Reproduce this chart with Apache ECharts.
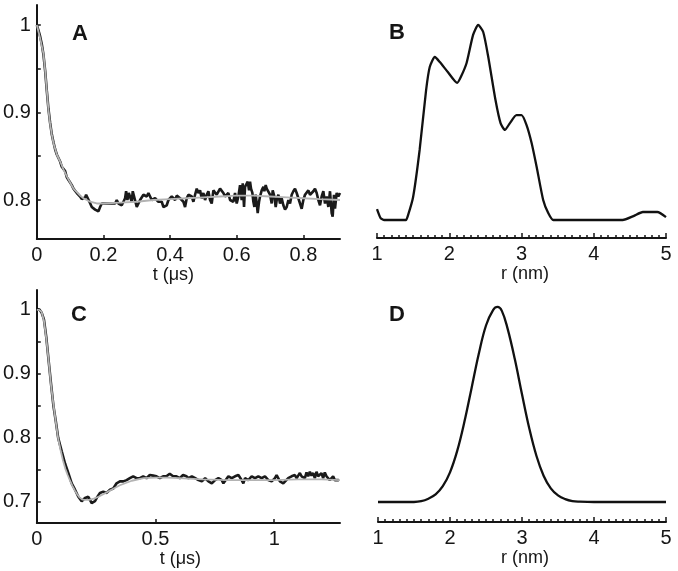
<!DOCTYPE html>
<html><head><meta charset="utf-8">
<script src="https://cdn.jsdelivr.net/npm/echarts@6/dist/echarts.min.js"></script>
<style>html,body{margin:0;padding:0;background:#fff}#c{width:678px;height:571px}</style>
</head><body><div id="c"></div>
<script>
// ---- Panel A: time trace (experimental + fit) ----
const tFitA = [0,0.01,0.02,0.025,0.03,0.035,0.04,0.045,0.05,0.06,0.07,0.08,0.09,0.1,0.11,0.12,0.13,0.14,0.15,0.16,0.18,0.2,0.25,0.3,0.35,0.4,0.45,0.5,0.55,0.6,0.65,0.7,0.75,0.8,0.85,0.91];
const vFitA = [1,0.985,0.967,0.948,0.925,0.903,0.887,0.875,0.865,0.852,0.844,0.835,0.827,0.82,0.813,0.809,0.805,0.802,0.8,0.798,0.796,0.796,0.797,0.798,0.8,0.801,0.802,0.803,0.804,0.805,0.805,0.804,0.803,0.802,0.801,0.8];
const tExpA = [0,0.005,0.01,0.015,0.02,0.025,0.03,0.035,0.04,0.045,0.05,0.055,0.06,0.065,0.07,0.075,0.08,0.085,0.09,0.095,0.1,0.105,0.11,0.115,0.12,0.125,0.13,0.135,0.14,0.145,
0.148,0.152,0.158,0.165,0.17,0.175,0.18,0.185,0.19,0.195,0.2,0.205,0.21,0.215,0.22,0.225,0.23,0.235,0.24,0.245,0.25,0.255,0.26,0.265,0.268,0.272,0.276,0.28,0.285,0.288,0.292,0.296,0.3,0.305,0.31,0.315,0.32,0.325,0.33,0.335,0.34,0.345,0.35,0.355,0.36,0.365,0.37,0.375,0.38,0.385,0.39,0.395,0.4,0.405,0.41,0.415,0.42,0.425,0.43,0.435,0.44,0.445,0.45,0.455,
0.46,0.465,0.47,0.475,0.48,0.485,0.49,0.495,0.5,0.505,0.51,0.515,0.52,0.525,0.53,0.535,0.54,0.545,0.55,0.555,0.56,0.565,0.57,0.575,0.58,0.585,0.59,0.595,0.6,0.605,0.61,0.615,0.618,0.622,0.625,0.63,0.633,0.637,0.64,0.643,0.647,0.65,0.653,0.657,0.66,0.663,0.667,0.67,0.675,0.68,0.683,0.687,0.69,0.695,0.7,0.705,0.708,0.713,0.717,0.72,0.725,0.73,0.735,0.74,0.745,0.75,0.755,0.76,0.765,0.77,0.775,0.78,0.785,0.79,0.795,0.8,0.805,0.81,0.815,0.82,0.825,0.83,0.835,0.84,0.845,0.85,0.855,0.86,0.865,0.87,0.875,0.88,0.885,0.888,0.892,0.895,0.9,0.905,0.91];
const vExpA = [1.0,0.994,0.987,0.978,0.966,0.948,0.925,0.904,0.888,0.875,0.866,0.858,0.852,0.848,0.844,0.838,0.836,0.833,0.826,0.824,0.82,0.817,0.813,0.811,0.808,0.806,0.804,0.801,0.8,0.803,
0.806,0.808,0.798,0.792,0.794,0.789,0.791,0.787,0.792,0.796,0.798,0.796,0.798,0.796,0.794,0.796,0.798,0.796,0.8,0.796,0.798,0.794,0.798,0.802,0.81,0.8,0.808,0.81,0.798,0.81,0.804,0.798,0.792,0.796,0.8,0.802,0.806,0.808,0.804,0.808,0.804,0.8,0.802,0.802,0.804,0.798,0.796,0.798,0.792,0.79,0.794,0.8,0.802,0.804,0.802,0.8,0.805,0.806,0.802,0.804,0.798,0.792,0.802,0.806,
0.808,0.804,0.798,0.806,0.813,0.808,0.811,0.802,0.808,0.8,0.806,0.81,0.8,0.796,0.811,0.813,0.806,0.808,0.813,0.811,0.808,0.804,0.806,0.808,0.8,0.802,0.798,0.808,0.796,0.804,0.817,0.8,0.819,0.792,0.815,0.817,0.821,0.811,0.821,0.813,0.808,0.798,0.792,0.806,0.796,0.785,0.798,0.804,0.811,0.815,0.81,0.817,0.813,0.815,0.806,0.796,0.811,0.804,0.792,0.8,0.806,0.796,0.802,0.794,0.789,0.792,0.8,0.796,0.806,0.81,0.813,0.808,0.802,0.796,0.79,0.8,0.806,0.808,0.811,0.806,0.804,0.81,0.813,0.808,0.8,0.794,0.804,0.81,0.796,0.804,0.792,0.81,0.785,0.781,0.806,0.79,0.808,0.804,0.808];

// ---- Panel C: time trace (experimental + fit) ----
const tFitC = [0,0.01,0.02,0.03,0.04,0.05,0.06,0.07,0.08,0.09,0.1,0.11,0.12,0.13,0.14,0.15,0.16,0.17,0.18,0.19,0.2,0.22,0.24,0.26,0.28,0.3,0.32,0.35,0.4,0.45,0.5,0.55,0.6,0.7,0.8,0.9,1.0,1.1,1.2,1.277];
const vFitC = [1,1,0.997,0.983,0.955,0.92,0.882,0.852,0.825,0.799,0.781,0.765,0.752,0.742,0.733,0.725,0.718,0.712,0.707,0.704,0.703,0.703,0.705,0.708,0.712,0.716,0.72,0.726,0.733,0.737,0.738,0.738,0.737,0.735,0.734,0.734,0.734,0.735,0.735,0.734];
const tExpC = [0,0.01,0.02,0.03,0.04,0.05,0.06,0.07,0.08,0.09,0.1,0.105,0.119,0.133,0.147,0.161,0.175,0.189,0.203,0.217,0.224,0.231,0.245,0.252,0.266,0.28,0.294,0.308,0.322,0.336,0.35,0.364,0.378,0.392,0.406,0.413,0.42,0.434,0.448,0.462,0.476,0.49,0.504,0.518,0.532,0.546,0.56,0.574,0.588,0.602,0.616,0.63,
0.639,0.653,0.667,0.681,0.695,0.709,0.723,0.737,0.751,0.765,0.772,0.779,0.786,0.793,0.807,0.821,0.835,0.849,0.863,0.87,0.877,0.884,0.891,0.905,0.912,0.919,0.933,0.94,0.947,0.961,0.975,0.989,1.003,1.01,1.017,1.024,1.031,1.038,1.045,1.059,1.066,1.073,1.087,1.094,1.101,1.108,1.115,1.122,1.129,1.136,1.143,1.15,1.157,1.164,1.171,1.178,1.185,1.199,1.206,1.213,1.22,1.227,1.234,1.241,1.248,1.255,1.262,1.272];
const vExpC = [1,1.001,0.996,0.985,0.957,0.92,0.884,0.85,0.826,0.8,0.786,0.779,0.76,0.745,0.729,0.719,0.708,0.701,0.706,0.708,0.703,0.698,0.701,0.706,0.714,0.716,0.714,0.719,0.721,0.729,0.732,0.732,0.734,0.737,0.74,0.742,0.737,0.737,0.74,0.737,0.742,0.741,0.74,0.737,0.74,0.74,0.744,0.74,0.74,0.737,0.742,0.74,
0.737,0.74,0.737,0.734,0.732,0.737,0.732,0.729,0.734,0.737,0.74,0.734,0.729,0.732,0.74,0.737,0.74,0.742,0.734,0.729,0.737,0.74,0.734,0.74,0.742,0.737,0.74,0.742,0.737,0.74,0.734,0.732,0.737,0.742,0.74,0.732,0.734,0.729,0.732,0.737,0.734,0.74,0.742,0.737,0.741,0.745,0.74,0.742,0.737,0.746,0.74,0.747,0.741,0.745,0.737,0.747,0.74,0.745,0.737,0.746,0.74,0.737,0.734,0.737,0.74,0.734,0.732,0.734];

// ---- Panel B: distance distribution ----
const rB = [1.0,1.05,1.1,1.2,1.3,1.4,1.43,1.5,1.59,1.68,1.73,1.8,1.87,1.98,2.11,2.16,2.24,2.33,2.4,2.47,2.54,2.64,2.71,2.77,2.84,2.93,3.0,3.07,3.14,3.21,3.3,3.37,3.44,3.6,3.8,4.0,4.2,4.4,4.55,4.68,4.88,5.0];
const pB = [0.056,0.01,0,0,0,0,0.025,0.118,0.359,0.667,0.785,0.836,0.81,0.759,0.703,0.733,0.805,0.949,1.0,0.964,0.836,0.615,0.497,0.462,0.497,0.538,0.538,0.487,0.395,0.272,0.103,0.036,0,0,0,0,0,0,0.02,0.041,0.041,0.015];

// ---- Panel D: distance distribution ----
const rD = [1.0,1.5,1.6,1.7,1.8,1.9,2.0,2.1,2.2,2.3,2.4,2.5,2.6,2.66,2.72,2.8,2.9,3.0,3.1,3.2,3.3,3.4,3.5,3.6,3.7,3.8,4.0,4.5,5.0];
const pD = [0,0,0.004,0.017,0.039,0.081,0.152,0.262,0.411,0.585,0.76,0.905,0.985,1.0,0.98,0.889,0.733,0.552,0.379,0.237,0.135,0.07,0.034,0.015,0.005,0.002,0,0,0];

// ---- tick values / labels ----
const xTicksA = [0,0.2,0.4,0.6,0.8];
const yTicksA = [0.8,0.85,0.9,0.95,1];
const yLabelsA = [0.8,0.9,1];
const xTicksC = [0,0.5,1];
const yTicksC = [0.7,0.75,0.8,0.85,0.9,0.95,1];
const yLabelsC = [0.7,0.8,0.9,1];
const panelLetters = ['A','B','C','D'];

const FONT = 'Liberation Sans, Arial, Helvetica, sans-serif';
const INK = '#151515';
function pairs(xs, ys){ return xs.map((x,i)=>[x, ys[i]]); }

function timeX(grid, max, ticks, pad){
  return {
    gridIndex: grid, type:'value', min:0, max:max,
    axisLine:{show:true, onZero:false, lineStyle:{color:INK, width:2}},
    axisTick:{show:true, inside:true, length:4, customValues:ticks, lineStyle:{color:INK, width:1.5}},
    axisLabel:{show:true, customValues:ticks, color:INK, fontSize:20, fontFamily:FONT, margin:6},
    splitLine:{show:false},
    name:'t (μs)', nameLocation:'middle', nameGap:22,
    nameTextStyle:{color:INK, fontSize:18, fontFamily:FONT, padding:pad}
  };
}
function timeY(grid, min, max, ticks, labels){
  return {
    gridIndex: grid, type:'value', min:min, max:max,
    axisLine:{show:true, onZero:false, lineStyle:{color:INK, width:2}},
    axisTick:{show:true, inside:true, length:4, customValues:ticks, lineStyle:{color:INK, width:1.5}},
    axisLabel:{show:true, customValues:labels, color:INK, fontSize:20, fontFamily:FONT, margin:6},
    splitLine:{show:false}
  };
}
function distX(grid, pad){
  return {
    gridIndex: grid, type:'value', min:1, max:5, interval:1,
    axisLine:{show:true, onZero:false, lineStyle:{color:INK, width:2}},
    axisTick:{show:true, inside:true, length:5, lineStyle:{color:INK, width:1.5}},
    minorTick:{show:true, splitNumber:10, length:3, lineStyle:{color:INK, width:1.5}},
    axisLabel:{show:true, color:INK, fontSize:20, fontFamily:FONT, margin:6},
    splitLine:{show:false},
    name:'r (nm)', nameLocation:'middle', nameGap:22,
    nameTextStyle:{color:INK, fontSize:18, fontFamily:FONT, padding:pad}
  };
}
function distY(grid, min, max){
  return {gridIndex:grid, type:'value', min:min, max:max, show:false, splitLine:{show:false}};
}
function line(xi, data, color, width, z){
  return {type:'line', xAxisIndex:xi, yAxisIndex:xi, data:data, showSymbol:false, symbol:'none',
    lineStyle:{color:color, width:width}, z:z, animation:false, silent:true};
}

const letterPos = [[80,34],[397,33],[79,315],[397,315]];

const option = {
  animation:false,
  backgroundColor:'#ffffff',
  grid:[
    {left:36, top:5, width:304, height:234},
    {left:377, top:5, width:289, height:233},
    {left:36, top:290, width:304, height:233},
    {left:378, top:290, width:288, height:232}
  ],
  xAxis:[
    timeX(0, 0.91, xTicksA, [0,30,0,0]),
    distX(1, [0,0,0,7]),
    timeX(2, 1.277, xTicksC, [0,16,0,0]),
    distX(3, [0,0,0,6])
  ],
  yAxis:[
    timeY(0, 0.7554, 1.0229, yTicksA, yLabelsA),
    distY(1, -0.0923, 1.1026),
    timeY(2, 0.667, 1.031, yTicksC, yLabelsC),
    distY(3, -0.1026, 1.087)
  ],
  series:[
    line(0, pairs(tExpA, vExpA), '#1a1a1a', 2.6, 2),
    line(0, pairs(tFitA, vFitA), '#b3b3b3', 1.8, 3),
    Object.assign(line(1, pairs(rB, pB), '#111', 2.3, 2), {smooth:0.2}),
    line(2, pairs(tExpC, vExpC), '#1a1a1a', 2.6, 2),
    line(2, pairs(tFitC, vFitC), '#b3b3b3', 1.8, 3),
    Object.assign(line(3, pairs(rD, pD), '#111', 2.3, 2), {smooth:0.4})
  ],
  graphic: panelLetters.map((t,i)=>({
    type:'text', x:letterPos[i][0], y:letterPos[i][1],
    style:{text:t, font:'bold 22px ' + FONT, fill:INK, align:'center', verticalAlign:'middle'}
  }))
};
const chart = echarts.init(document.getElementById('c'), null, {renderer:'canvas'});
chart.setOption(option);
</script></body></html>
